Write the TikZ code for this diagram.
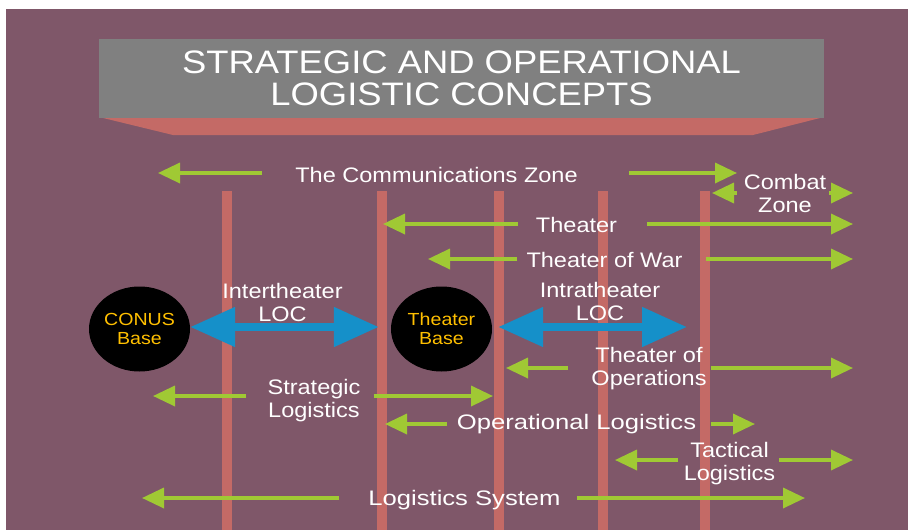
\documentclass[tikz,border=0pt]{standalone}
\usepackage{fontspec}
\setmainfont{Liberation Sans}[FakeStretch=1.12]
\usepackage{tikz}
\usetikzlibrary{arrows.meta,shapes.geometric,positioning}
\definecolor{lgplum}{RGB}{127,87,105}
\definecolor{lgsalmon}{RGB}{196,106,102}
\definecolor{lggray}{RGB}{128,128,128}
\definecolor{lggreen}{RGB}{160,201,52}
\definecolor{lgblue}{RGB}{21,144,201}
\definecolor{lggold}{RGB}{255,192,0}
\tikzstyle{zonearrow} = [line width=3.5pt, -{Triangle[length=22pt,width=20pt]}, color=lggreen]
\tikzstyle{locarrow} = [line width=8pt, {Triangle[length=45pt,width=38pt]}-{Triangle[length=45pt,width=38pt]}, color=lgblue]
\tikzstyle{divider} = [line width=10pt, color=lgsalmon]
\tikzstyle{zone} = [text=white, font=\fontsize{21}{22.5}\selectfont, align=center, inner sep=0pt, anchor=base]
\tikzstyle{widezone} = [zone, font=\fontsize{21}{22.5}\selectfont\addfontfeature{FakeStretch=1.22}]
\tikzstyle{hub} = [ellipse, fill=black, minimum width=101pt, minimum height=85pt, inner sep=0pt, text=lggold, font=\fontsize{17.5}{19}\selectfont, align=center]
\tikzstyle{banner} = [rectangle, fill=lggray, minimum width=725pt, minimum height=79pt, inner sep=0pt, text=white, font=\fontsize{32.5}{32}\selectfont, align=center]

\begin{document}
\begin{tikzpicture}[x=1pt, y=-1pt]
\useasboundingbox (0,0) rectangle (908,530);
\fill[white] (0,0) rectangle (908,530);
\fill[lgplum] (6,9) rectangle (908,530);

% Title
\fill[lgsalmon] (99,117) -- (824,117) -- (753,135) -- (173,135) -- cycle;
\node (title) [banner] at (461.5,78.5) {STRATEGIC AND OPERATIONAL\\LOGISTIC CONCEPTS};

% Dividers
\foreach \x in {227,382,499,603,705}
  \draw[divider] (\x,191) -- (\x,530);

% Nodes (multi-line ones sit on their last baseline)
\node (conus) [hub] at (139.5,329) {CONUS\\Base};
\node (tbase) [hub] at (441.5,329) {Theater\\Base};
\node (commz) [zone] at (436.5,182) {The Communications Zone};
\node (combat) [zone] at (785,212) {Combat\\Zone};
\node (theater) [zone] at (576.5,232) {Theater};
\node (tow) [zone] at (604.5,267) {Theater of War};
\node (inter) [zone] at (282.5,321) {Intertheater\\LOC};
\node (intra) [zone] at (600,320) {Intratheater\\LOC};
\node (too) [zone] at (649,385) {Theater of\\Operations};
\node (strat) [zone] at (314,417) {Strategic\\Logistics};
\node (oper) [widezone] at (576.5,429) {Operational Logistics};
\node (tact) [zone] at (729.5,480) {Tactical\\Logistics};
\node (logsys) [widezone] at (464.5,505) {Logistics System};

% Arrow ends
\coordinate (czL) at (158,173);
\coordinate (czR) at (737,173);
\coordinate (cbL) at (712,193);
\coordinate (cbR) at (853,193);
\coordinate (thL) at (383,224);
\coordinate (thR) at (853,224);
\coordinate (twL) at (428,259);
\coordinate (twR) at (853,259);
\coordinate (toL) at (506,368);
\coordinate (toR) at (853,368);
\coordinate (stL) at (153,396);
\coordinate (stR) at (493,396);
\coordinate (opL) at (385,424);
\coordinate (opR) at (755,424);
\coordinate (taL) at (615,460);
\coordinate (taR) at (853,460);
\coordinate (lsL) at (142,498);
\coordinate (lsR) at (805,498);
\coordinate (intraR) at (687,327);

% Arrows
\draw[zonearrow, shorten <=33pt] (commz.west |- czL) -- (czL);
\draw[zonearrow, shorten <=51pt] (commz.east |- czR) -- (czR);
\draw[zonearrow, shorten <=7pt] (combat.west |- cbL) -- (cbL);
\draw[zonearrow, shorten <=3pt] (combat.east |- cbR) -- (cbR);
\draw[zonearrow, shorten <=18pt] (theater.west |- thL) -- (thL);
\draw[zonearrow, shorten <=30pt] (theater.east |- thR) -- (thR);
\draw[zonearrow, shorten <=9pt] (tow.west |- twL) -- (twL);
\draw[zonearrow, shorten <=23pt] (tow.east |- twR) -- (twR);
\draw[zonearrow, shorten <=23pt] (too.west |- toL) -- (toL);
\draw[zonearrow, shorten <=4pt] (too.east |- toR) -- (toR);
\draw[zonearrow, shorten <=21pt] (strat.west |- stL) -- (stL);
\draw[zonearrow, shorten <=13pt] (strat.east |- stR) -- (stR);
\draw[zonearrow, shorten <=10pt] (oper.west |- opL) -- (opL);
\draw[zonearrow, shorten <=15pt] (oper.east |- opR) -- (opR);
\draw[zonearrow, shorten <=6pt] (tact.west |- taL) -- (taL);
\draw[zonearrow, shorten <=4pt] (tact.east |- taR) -- (taR);
\draw[zonearrow, shorten <=29pt] (logsys.west |- lsL) -- (lsL);
\draw[zonearrow, shorten <=16pt] (logsys.east |- lsR) -- (lsR);
\draw[locarrow, shorten >=12pt] (conus.east |- intraR) -- (tbase.west |- intraR);
\draw[locarrow, shorten <=6pt] (tbase.east |- intraR) -- (intraR);
\end{tikzpicture}
\end{document}
